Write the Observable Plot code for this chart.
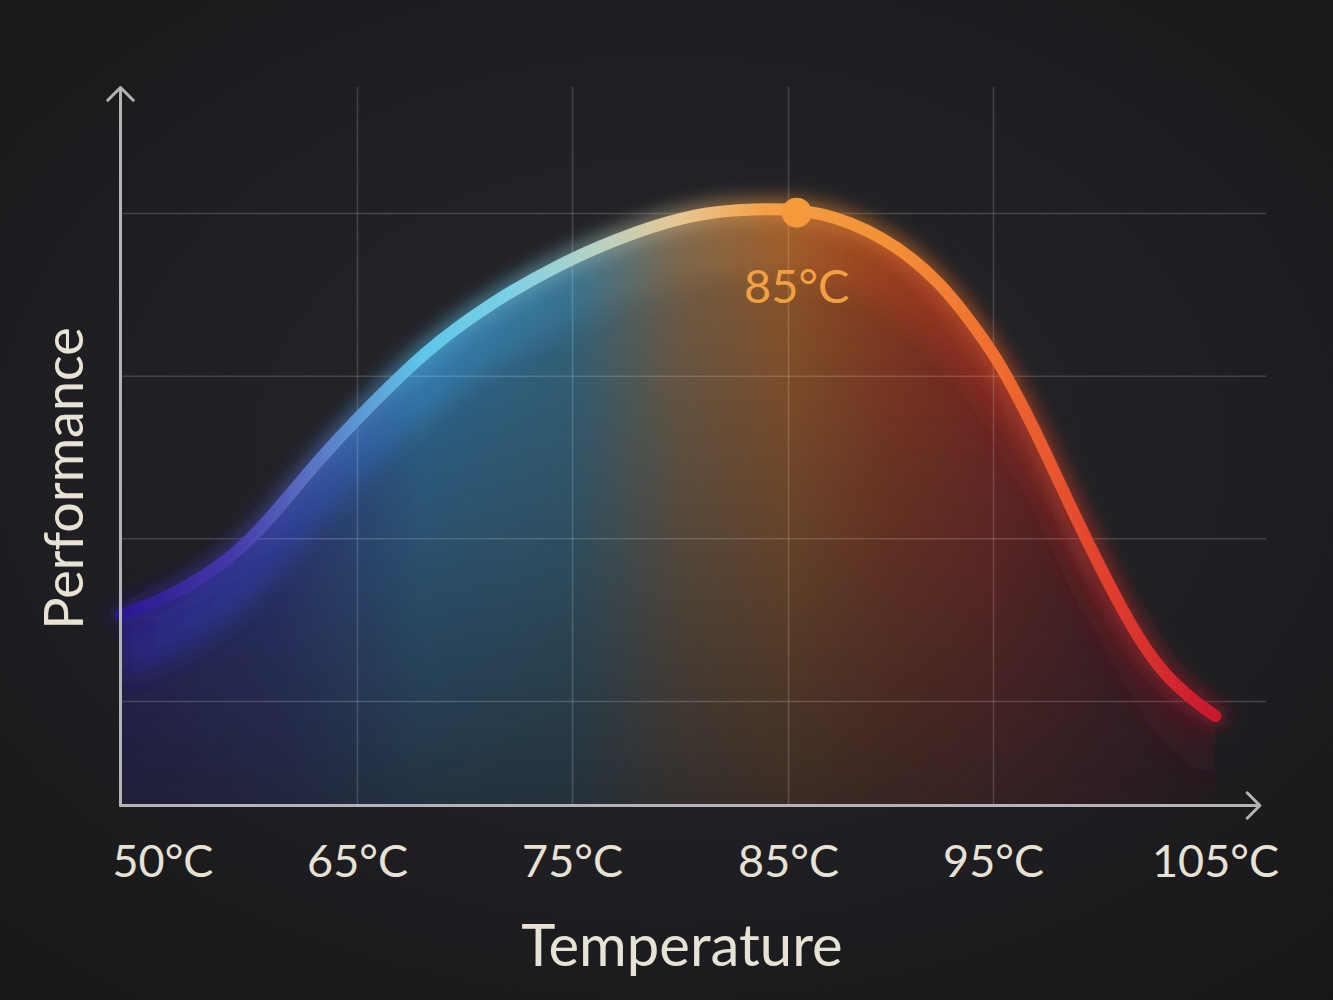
<!DOCTYPE html>
<html>
<head>
<meta charset="utf-8">
<script src="https://cdn.jsdelivr.net/npm/d3@7"></script>
<script src="https://cdn.jsdelivr.net/npm/@observablehq/plot@0.6"></script>
<style>
  html, body { margin: 0; padding: 0; }
  body {
    width: 1333px;
    height: 1000px;
    overflow: hidden;
    background: radial-gradient(ellipse 80% 75% at 50% 45%, #26262b 0%, #1f1f23 55%, #161618 100%);
  }
  #grafico svg { display: block; }
</style>
</head>
<body>
<div id="grafico"></div>
<script>
// curva (temperatura en °C, rendimiento en unidades arbitrarias)
const temperature = [50, 52.5, 56, 58.9, 62.3, 65.5, 68.2, 70.9, 74.4, 78, 80.8, 82.8, 85, 86.6, 88, 89.5, 91, 92.4, 93.6, 95, 96.2, 97.4, 98.6, 99.8, 101.2, 102.5, 103.9, 105]
const performance = [30.7, 32.3, 36.1, 41, 49.3, 56.2, 63.2, 68.5, 73.9, 77.9, 80, 80.5, 80.6, 80, 78.9, 77.1, 74.6, 71.4, 67.7, 62.9, 57, 50.3, 43.2, 36.5, 29.2, 23.8, 20.3, 18.2]

const tickTemps = [50, 65, 75, 85, 95, 105]
const tickLabels = ['50°C', '65°C', '75°C', '85°C', '95°C', '105°C']
const gridTemps = [65, 75, 85, 95]
const gridPerf = [20, 40, 60, 80]

const peakTemp = 85.4
const peakPerf = 80.1
const peakLabel = '85°C'

// estilos
const curveStops = [
  [50, '#2a1890'], [57, '#4438a8'], [62, '#5a72c2'], [68, '#5ec6e8'], [72, '#7ad0e6'],
  [76, '#b6d2c4'], [80, '#e8c690'], [84, '#f4a046'], [90, '#f39037'], [95, '#ef6e2e'],
  [100, '#e2402e'], [105, '#c8182e'],
]
const areaStops = [
  [50, '#2e26a0'], [60, '#3244b4'], [68, '#3488c4'], [75, '#3a7e9e'], [80, '#8a7050'],
  [85, '#b0652a'], [90, '#a8401e'], [95, '#9a2a22'], [100, '#6e1a22'], [105, '#3a1a22'],
]

const data = temperature.map((t, i) => ({ temp: t, perf: performance[i] }))
const ticks = tickTemps.map((t, i) => ({ temp: t, label: tickLabels[i] }))

const yMin = 7.2
const yMax = 95.5
const xEnd = 107.3
const arrowEnd = 107
const textColor = '#e8e2d4'
const axisColor = '#b4b4b6'
const font = 'Lato, "Open Sans", sans-serif'
const curveType = 'basis'

// añade un atributo (filtro o máscara) al grupo de la marca
const withAttr = (name, value) => (index, scales, values, dimensions, context, next) => {
  const g = next(index, scales, values, dimensions, context)
  g.setAttribute(name, value)
  return g
}

let chart = Plot.plot({
  width: 1333,
  height: 1000,
  marginTop: 87,
  marginBottom: 195,
  marginLeft: 120,
  marginRight: 118,
  x: { type: 'linear', domain: tickTemps, range: [120, 357, 572, 788, 993, 1215], axis: null },
  y: { type: 'linear', domain: [yMin, yMax], axis: null },
  style: { background: 'transparent', fontFamily: font, overflow: 'visible' },
  marks: [
    Plot.areaY(data, { x: 'temp', y1: yMin, y2: 'perf', fill: 'url(#areaGrad)', fillOpacity: 0.8, curve: curveType, render: withAttr('mask', 'url(#fadeMask)') }),
    Plot.areaY(data, { x: 'temp', y1: d => d.perf - 8, y2: 'perf', fill: 'url(#areaGrad)', fillOpacity: 0.55, curve: curveType, clip: true, render: withAttr('filter', 'url(#blurBig)') }),
    Plot.ruleY(gridPerf, { x1: 50, x2: xEnd, stroke: '#ffffff', strokeOpacity: 0.17, strokeWidth: 1.5 }),
    Plot.ruleX(gridTemps, { y1: yMin, y2: yMax, stroke: '#ffffff', strokeOpacity: 0.17, strokeWidth: 1.5 }),
    Plot.line(data, { x: 'temp', y: 'perf', stroke: 'url(#curveGrad)', strokeWidth: 24, strokeOpacity: 0.4, curve: curveType, render: withAttr('filter', 'url(#blurLine)') }),
    Plot.line(data, { x: 'temp', y: 'perf', stroke: 'url(#curveGrad)', strokeWidth: 12, strokeLinecap: 'round', curve: curveType }),
    Plot.arrow([0], { x1: 50, y1: yMin, x2: 50, y2: yMax, stroke: axisColor, strokeWidth: 3, headLength: 9, headAngle: 90 }),
    Plot.arrow([0], { x1: 50, y1: yMin, x2: arrowEnd, y2: yMin, stroke: axisColor, strokeWidth: 3, headLength: 9, headAngle: 90 }),
    Plot.dot([0], { x: peakTemp, y: peakPerf, r: 15, fill: '#f49a3c' }),
    Plot.text([peakLabel], { x: peakTemp, y: peakPerf, dy: 90, lineAnchor: 'bottom', fontSize: 47, fill: '#f3a041' }),
    // etiquetas del eje x
    Plot.text(ticks.slice(0, 1), { x: 'temp', text: 'label', frameAnchor: 'bottom', dy: 71, dx: -8, textAnchor: 'start', lineAnchor: 'bottom', fontSize: 45, fill: textColor }),
    Plot.text(ticks.slice(1), { x: 'temp', text: 'label', frameAnchor: 'bottom', dy: 71, textAnchor: 'middle', lineAnchor: 'bottom', fontSize: 45, fill: textColor }),
    Plot.text(['Temperature'], { frameAnchor: 'bottom', dx: 14, dy: 160, textAnchor: 'middle', lineAnchor: 'bottom', fontSize: 58, fill: textColor }),
    Plot.text(['Performance'], { frameAnchor: 'left', rotate: -90, dx: -38, dy: 32, textAnchor: 'middle', lineAnchor: 'bottom', fontSize: 54, fill: textColor }),
  ],
})

// degradados, desenfoque y máscara
const xs = chart.scale('x')
const x0 = xs.apply(50)
const x1 = xs.apply(105)
const off = t => (xs.apply(t) - x0) / (x1 - x0)

const svg = d3.select(chart)
const defs = svg.insert('defs', ':first-child')

function gradient(id, stops) {
  const g = defs.append('linearGradient').attr('id', id)
    .attr('x1', 0).attr('x2', 1).attr('y1', 0).attr('y2', 0)
  stops.forEach(([t, c]) => g.append('stop').attr('offset', off(t)).attr('stop-color', c))
}
gradient('curveGrad', curveStops)
gradient('areaGrad', areaStops)

const fade = defs.append('linearGradient').attr('id', 'fadeGrad')
  .attr('x1', 0).attr('x2', 0).attr('y1', 0).attr('y2', 1)
fade.append('stop').attr('offset', 0).attr('stop-color', '#ffffff')
fade.append('stop').attr('offset', 0.6).attr('stop-color', '#8a8a8a')
fade.append('stop').attr('offset', 1).attr('stop-color', '#3a3a3a')

defs.append('mask').attr('id', 'fadeMask').attr('maskContentUnits', 'objectBoundingBox')
  .append('rect').attr('width', 1).attr('height', 1).attr('fill', 'url(#fadeGrad)')

function blur(id, sd) {
  defs.append('filter').attr('id', id).attr('filterUnits', 'userSpaceOnUse')
    .attr('x', 0).attr('y', 0).attr('width', 1333).attr('height', 1000)
    .append('feGaussianBlur').attr('stdDeviation', sd)
}
blur('blurBig', 12)
blur('blurLine', 9)

d3.select('#grafico').append(() => chart)
</script>
</body>
</html>
